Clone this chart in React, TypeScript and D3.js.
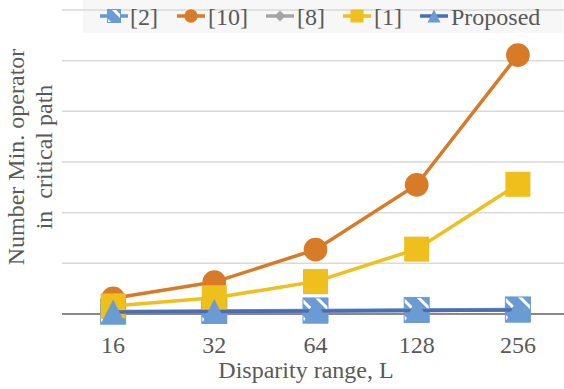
import React from "react";
import * as d3 from "d3";

const categories = ["16", "32", "64", "128", "256"];
const ref2 = [5, 6, 7, 8, 9];
const ref10 = [31, 63, 127, 255, 511];
const ref8 = [4, 5, 6, 7, 8];
const ref1 = [16, 32, 64, 128, 256];
const proposed = [4, 5, 6, 7, 8];
const yTicks = [0, 100, 200, 300, 400, 500, 600];

const W = 564;
const H = 389;
const FONT = "'Liberation Serif', 'Times New Roman', serif";
const TXT = "#595959";

type Series = { name: string; values: number[]; line: string; marker: string; fill: string };

const series: Series[] = [
  { name: "[2]", values: ref2, line: "#5B9BD5", marker: "hatch", fill: "url(#hatch)" },
  { name: "[10]", values: ref10, line: "#D77B28", marker: "circle", fill: "#D77B28" },
  { name: "[8]", values: ref8, line: "#A5A5A5", marker: "diamond", fill: "#A5A5A5" },
  { name: "[1]", values: ref1, line: "#EFBF1B", marker: "square", fill: "#EFBF1B" },
  { name: "Proposed", values: proposed, line: "#4A6DB5", marker: "triangle", fill: "#6A9BD3" },
];

function Marker({ type, x, y, fill, s }: { type: string; x: number; y: number; fill: string; s: number }) {
  const h = s / 2;
  if (type === "circle") return <circle cx={x} cy={y} r={h * 0.95} fill={fill} />;
  if (type === "square") return <rect x={x - h} y={y - h} width={s} height={s} fill={fill} />;
  if (type === "hatch")
    return <rect x={x - h} y={y - h} width={s} height={s} fill={fill} stroke="#6A9BD3" strokeWidth={1} />;
  if (type === "diamond")
    return <path d={`M${x},${y - h}L${x + h},${y}L${x},${y + h}L${x - h},${y}Z`} fill={fill} />;
  return <path d={`M${x},${y - h}L${x + h},${y + h}L${x - h},${y + h}Z`} fill={fill} />;
}

export default function App() {
  const x = d3.scaleBand<string>().domain(categories).range([62.5, 568.5]);
  const y = d3.scaleLinear().domain([0, 600]).range([314, 10]);
  const cx = (c: string) => (x(c) as number) + x.bandwidth() / 2;
  const line = d3
    .line<number>()
    .x((_, i) => cx(categories[i]))
    .y((d) => y(d));

  const legendItems = [
    { s: series[0], x0: 100, tx: 130 },
    { s: series[1], x0: 177, tx: 208 },
    { s: series[2], x0: 266, tx: 297 },
    { s: series[3], x0: 343, tx: 374 },
    { s: series[4], x0: 420, tx: 451 },
  ];

  return (
    <svg width={W} height={H} style={{ position: "absolute", left: 0, top: 0 }}>
      <defs>
        <pattern id="hatch" patternUnits="userSpaceOnUse" width="12" height="12" patternTransform="rotate(-45)">
          <rect width="12" height="12" fill="#6A9BD3" />
          <rect x="0" y="0" width="3" height="12" fill="#ffffff" />
        </pattern>
      </defs>
      <rect width={W} height={H} fill="#ffffff" />
      <rect x={83} y={0} width={480} height={33} fill="#f7f7f7" />
      {yTicks.slice(1).map((t) => (
        <line key={t} x1={62} x2={W} y1={y(t)} y2={y(t)} stroke="#d9d9d9" strokeWidth={1.5} />
      ))}
      <line x1={62} x2={W} y1={y(0)} y2={y(0)} stroke="#898989" strokeWidth={2} />
      {series.map((s) => (
        <g key={s.name}>
          <path d={line(s.values) || ""} fill="none" stroke={s.line} strokeWidth={3.5} />
          {s.values.map((v, i) => (
            <Marker key={i} type={s.marker} x={cx(categories[i])} y={y(v)} fill={s.fill} s={s.marker === "diamond" ? 16 : 25} />
          ))}
        </g>
      ))}
      {categories.map((c) => (
        <text key={c} x={cx(c)} y={353} textAnchor="middle" fontFamily={FONT} fontSize={24} fill={TXT}>
          {c}
        </text>
      ))}
      <text x={306} y={378} textAnchor="middle" fontFamily={FONT} fontSize={24} fill={TXT}>
        Disparity range, L
      </text>
      <g transform="translate(24,157) rotate(-90)">
        <text x={0} y={0} textAnchor="middle" fontFamily={FONT} fontSize={24} fill={TXT}>
          Number Min. operator
        </text>
        <text x={0} y={28} textAnchor="middle" fontFamily={FONT} fontSize={24} fill={TXT} style={{ whiteSpace: "pre" }}>
          {"in  critical path"}
        </text>
      </g>
      {legendItems.map(({ s, x0, tx }) => (
        <g key={s.name}>
          <line x1={x0} x2={x0 + 28} y1={16} y2={16} stroke={s.line} strokeWidth={3.5} />
          <Marker type={s.marker} x={x0 + 14} y={16} fill={s.fill} s={s.marker === "circle" ? 14 : s.marker === "diamond" ? 11 : 13} />
          <text x={tx} y={25} fontFamily={FONT} fontSize={24} fill={TXT}>
            {s.name}
          </text>
        </g>
      ))}
    </svg>
  );
}
